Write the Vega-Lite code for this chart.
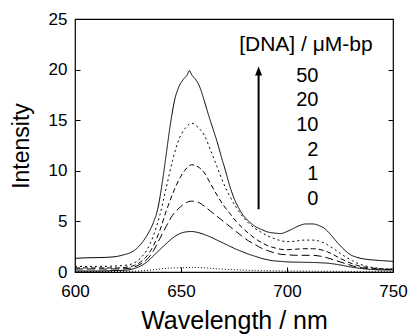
{
  "$schema": "https://vega.github.io/schema/vega-lite/v6.json",
  "width": 318,
  "height": 253,
  "autosize": {"type": "none"},
  "padding": {"left": 75, "top": 19, "right": 15, "bottom": 62},
  "background": "white",
  "config": {
    "view": {"stroke": "black", "strokeWidth": 1.2},
    "font": "Liberation Sans",
    "axis": {
      "labelFont": "Liberation Sans",
      "titleFont": "Liberation Sans",
      "labelColor": "black",
      "titleColor": "black",
      "titleFontWeight": "normal",
      "tickColor": "black",
      "grid": false,
      "domain": false
    }
  },
  "datasets": {
    "spectra": [
      {"wl":600,"I":1.35,"c":"50"},{"wl":605,"I":1.4,"c":"50"},{"wl":610,"I":1.42,"c":"50"},{"wl":615,"I":1.45,"c":"50"},{"wl":620,"I":1.55,"c":"50"},{"wl":623,"I":1.7,"c":"50"},{"wl":626,"I":1.9,"c":"50"},{"wl":629,"I":2.3,"c":"50"},{"wl":632,"I":3.0,"c":"50"},{"wl":635,"I":4.0,"c":"50"},{"wl":637,"I":4.9,"c":"50"},{"wl":639,"I":6.2,"c":"50"},{"wl":641,"I":8.6,"c":"50"},{"wl":643,"I":11.6,"c":"50"},{"wl":645,"I":14.6,"c":"50"},{"wl":647,"I":17.0,"c":"50"},{"wl":649,"I":18.3,"c":"50"},{"wl":651,"I":19.0,"c":"50"},{"wl":653,"I":19.5,"c":"50"},{"wl":654,"I":19.9,"c":"50"},{"wl":655,"I":19.5,"c":"50"},{"wl":657,"I":19.0,"c":"50"},{"wl":659,"I":18.2,"c":"50"},{"wl":661,"I":16.9,"c":"50"},{"wl":663,"I":15.5,"c":"50"},{"wl":665,"I":14.2,"c":"50"},{"wl":667,"I":12.9,"c":"50"},{"wl":669,"I":11.4,"c":"50"},{"wl":671,"I":10.0,"c":"50"},{"wl":673,"I":8.5,"c":"50"},{"wl":675,"I":7.3,"c":"50"},{"wl":677,"I":6.4,"c":"50"},{"wl":679,"I":5.7,"c":"50"},{"wl":682,"I":5.0,"c":"50"},{"wl":685,"I":4.5,"c":"50"},{"wl":688,"I":4.2,"c":"50"},{"wl":691,"I":3.95,"c":"50"},{"wl":694,"I":3.85,"c":"50"},{"wl":697,"I":3.8,"c":"50"},{"wl":700,"I":4.0,"c":"50"},{"wl":703,"I":4.3,"c":"50"},{"wl":706,"I":4.6,"c":"50"},{"wl":709,"I":4.75,"c":"50"},{"wl":712,"I":4.75,"c":"50"},{"wl":715,"I":4.6,"c":"50"},{"wl":718,"I":4.25,"c":"50"},{"wl":721,"I":3.6,"c":"50"},{"wl":724,"I":2.85,"c":"50"},{"wl":727,"I":2.2,"c":"50"},{"wl":730,"I":1.7,"c":"50"},{"wl":733,"I":1.45,"c":"50"},{"wl":736,"I":1.3,"c":"50"},{"wl":740,"I":1.2,"c":"50"},{"wl":745,"I":1.12,"c":"50"},{"wl":750,"I":1.05,"c":"50"},

      {"wl":600,"I":0.55,"c":"20"},{"wl":610,"I":0.55,"c":"20"},{"wl":620,"I":0.6,"c":"20"},{"wl":625,"I":0.7,"c":"20"},{"wl":628,"I":0.9,"c":"20"},{"wl":631,"I":1.4,"c":"20"},{"wl":634,"I":2.2,"c":"20"},{"wl":637,"I":3.6,"c":"20"},{"wl":640,"I":5.6,"c":"20"},{"wl":643,"I":8.3,"c":"20"},{"wl":646,"I":11.0,"c":"20"},{"wl":649,"I":13.1,"c":"20"},{"wl":652,"I":14.2,"c":"20"},{"wl":655,"I":14.7,"c":"20"},{"wl":658,"I":14.3,"c":"20"},{"wl":661,"I":13.5,"c":"20"},{"wl":664,"I":12.0,"c":"20"},{"wl":667,"I":10.4,"c":"20"},{"wl":670,"I":8.8,"c":"20"},{"wl":673,"I":7.5,"c":"20"},{"wl":676,"I":6.4,"c":"20"},{"wl":679,"I":5.5,"c":"20"},{"wl":682,"I":4.8,"c":"20"},{"wl":685,"I":4.3,"c":"20"},{"wl":688,"I":3.9,"c":"20"},{"wl":691,"I":3.55,"c":"20"},{"wl":694,"I":3.3,"c":"20"},{"wl":697,"I":3.1,"c":"20"},{"wl":700,"I":3.0,"c":"20"},{"wl":704,"I":3.05,"c":"20"},{"wl":708,"I":3.15,"c":"20"},{"wl":712,"I":3.15,"c":"20"},{"wl":716,"I":3.0,"c":"20"},{"wl":719,"I":2.7,"c":"20"},{"wl":722,"I":2.3,"c":"20"},{"wl":725,"I":1.85,"c":"20"},{"wl":728,"I":1.45,"c":"20"},{"wl":731,"I":1.1,"c":"20"},{"wl":734,"I":0.8,"c":"20"},{"wl":738,"I":0.55,"c":"20"},{"wl":742,"I":0.4,"c":"20"},{"wl":746,"I":0.3,"c":"20"},{"wl":750,"I":0.3,"c":"20"},

      {"wl":600,"I":0.4,"c":"10"},{"wl":610,"I":0.4,"c":"10"},{"wl":620,"I":0.4,"c":"10"},{"wl":625,"I":0.5,"c":"10"},{"wl":628,"I":0.65,"c":"10"},{"wl":631,"I":1.0,"c":"10"},{"wl":634,"I":1.6,"c":"10"},{"wl":637,"I":2.6,"c":"10"},{"wl":640,"I":4.1,"c":"10"},{"wl":643,"I":6.0,"c":"10"},{"wl":646,"I":7.7,"c":"10"},{"wl":649,"I":9.1,"c":"10"},{"wl":652,"I":10.1,"c":"10"},{"wl":655,"I":10.6,"c":"10"},{"wl":658,"I":10.4,"c":"10"},{"wl":661,"I":9.8,"c":"10"},{"wl":664,"I":8.7,"c":"10"},{"wl":667,"I":7.6,"c":"10"},{"wl":670,"I":6.6,"c":"10"},{"wl":673,"I":5.8,"c":"10"},{"wl":676,"I":5.0,"c":"10"},{"wl":679,"I":4.35,"c":"10"},{"wl":682,"I":3.8,"c":"10"},{"wl":685,"I":3.3,"c":"10"},{"wl":688,"I":2.9,"c":"10"},{"wl":691,"I":2.6,"c":"10"},{"wl":694,"I":2.4,"c":"10"},{"wl":697,"I":2.25,"c":"10"},{"wl":700,"I":2.2,"c":"10"},{"wl":704,"I":2.25,"c":"10"},{"wl":708,"I":2.3,"c":"10"},{"wl":712,"I":2.3,"c":"10"},{"wl":716,"I":2.2,"c":"10"},{"wl":719,"I":2.0,"c":"10"},{"wl":722,"I":1.7,"c":"10"},{"wl":725,"I":1.35,"c":"10"},{"wl":728,"I":1.05,"c":"10"},{"wl":731,"I":0.8,"c":"10"},{"wl":734,"I":0.6,"c":"10"},{"wl":738,"I":0.45,"c":"10"},{"wl":742,"I":0.35,"c":"10"},{"wl":746,"I":0.3,"c":"10"},{"wl":750,"I":0.25,"c":"10"},

      {"wl":600,"I":0.3,"c":"2"},{"wl":610,"I":0.3,"c":"2"},{"wl":620,"I":0.3,"c":"2"},{"wl":625,"I":0.35,"c":"2"},{"wl":628,"I":0.5,"c":"2"},{"wl":631,"I":0.8,"c":"2"},{"wl":634,"I":1.25,"c":"2"},{"wl":637,"I":2.1,"c":"2"},{"wl":640,"I":3.3,"c":"2"},{"wl":643,"I":4.5,"c":"2"},{"wl":646,"I":5.6,"c":"2"},{"wl":649,"I":6.3,"c":"2"},{"wl":652,"I":6.8,"c":"2"},{"wl":655,"I":7.0,"c":"2"},{"wl":658,"I":6.9,"c":"2"},{"wl":661,"I":6.5,"c":"2"},{"wl":664,"I":6.0,"c":"2"},{"wl":667,"I":5.5,"c":"2"},{"wl":670,"I":5.0,"c":"2"},{"wl":673,"I":4.5,"c":"2"},{"wl":676,"I":4.0,"c":"2"},{"wl":679,"I":3.5,"c":"2"},{"wl":682,"I":3.05,"c":"2"},{"wl":685,"I":2.7,"c":"2"},{"wl":688,"I":2.35,"c":"2"},{"wl":691,"I":2.1,"c":"2"},{"wl":694,"I":1.9,"c":"2"},{"wl":697,"I":1.75,"c":"2"},{"wl":700,"I":1.7,"c":"2"},{"wl":704,"I":1.65,"c":"2"},{"wl":708,"I":1.65,"c":"2"},{"wl":712,"I":1.65,"c":"2"},{"wl":716,"I":1.55,"c":"2"},{"wl":719,"I":1.4,"c":"2"},{"wl":722,"I":1.2,"c":"2"},{"wl":725,"I":1.0,"c":"2"},{"wl":728,"I":0.8,"c":"2"},{"wl":731,"I":0.6,"c":"2"},{"wl":734,"I":0.45,"c":"2"},{"wl":738,"I":0.35,"c":"2"},{"wl":742,"I":0.3,"c":"2"},{"wl":746,"I":0.25,"c":"2"},{"wl":750,"I":0.25,"c":"2"},

      {"wl":600,"I":0.1,"c":"1"},{"wl":610,"I":0.1,"c":"1"},{"wl":620,"I":0.15,"c":"1"},{"wl":625,"I":0.2,"c":"1"},{"wl":628,"I":0.35,"c":"1"},{"wl":631,"I":0.6,"c":"1"},{"wl":634,"I":1.0,"c":"1"},{"wl":637,"I":1.6,"c":"1"},{"wl":640,"I":2.2,"c":"1"},{"wl":643,"I":2.8,"c":"1"},{"wl":646,"I":3.35,"c":"1"},{"wl":649,"I":3.75,"c":"1"},{"wl":652,"I":3.95,"c":"1"},{"wl":655,"I":4.0,"c":"1"},{"wl":658,"I":3.9,"c":"1"},{"wl":661,"I":3.7,"c":"1"},{"wl":664,"I":3.45,"c":"1"},{"wl":667,"I":3.15,"c":"1"},{"wl":670,"I":2.85,"c":"1"},{"wl":673,"I":2.55,"c":"1"},{"wl":676,"I":2.25,"c":"1"},{"wl":679,"I":2.0,"c":"1"},{"wl":682,"I":1.75,"c":"1"},{"wl":685,"I":1.55,"c":"1"},{"wl":688,"I":1.35,"c":"1"},{"wl":691,"I":1.2,"c":"1"},{"wl":694,"I":1.1,"c":"1"},{"wl":697,"I":1.05,"c":"1"},{"wl":700,"I":1.0,"c":"1"},{"wl":705,"I":0.97,"c":"1"},{"wl":710,"I":0.95,"c":"1"},{"wl":715,"I":0.92,"c":"1"},{"wl":720,"I":0.85,"c":"1"},{"wl":725,"I":0.7,"c":"1"},{"wl":730,"I":0.5,"c":"1"},{"wl":735,"I":0.35,"c":"1"},{"wl":740,"I":0.25,"c":"1"},{"wl":745,"I":0.2,"c":"1"},{"wl":750,"I":0.2,"c":"1"},

      {"wl":600,"I":0.05,"c":"0"},{"wl":615,"I":0.05,"c":"0"},{"wl":625,"I":0.07,"c":"0"},{"wl":632,"I":0.12,"c":"0"},{"wl":638,"I":0.25,"c":"0"},{"wl":644,"I":0.38,"c":"0"},{"wl":650,"I":0.42,"c":"0"},{"wl":656,"I":0.45,"c":"0"},{"wl":662,"I":0.4,"c":"0"},{"wl":668,"I":0.3,"c":"0"},{"wl":676,"I":0.22,"c":"0"},{"wl":685,"I":0.15,"c":"0"},{"wl":700,"I":0.1,"c":"0"},{"wl":720,"I":0.07,"c":"0"},{"wl":750,"I":0.05,"c":"0"}
    ],
    "nums": [
      {"x":714.8,"y":19.37,"t":"50"},
      {"x":714.8,"y":17.0,"t":"20"},
      {"x":714.8,"y":14.5,"t":"10"},
      {"x":714.8,"y":12.06,"t":"2"},
      {"x":714.8,"y":9.68,"t":"1"},
      {"x":714.8,"y":7.21,"t":"0"}
    ],
    "header": [{"x":708.9,"y":22.4,"t":"[DNA] / μM-bp"}],
    "arrow": [{"x":686.6,"y1":6.2,"y2":19.6,"yh":19.85}]
  },
  "resolve": {"axis": {"y": "independent"}},
  "layer": [
    {
      "data": {"name": "spectra"},
      "mark": {"type": "line", "color": "black", "strokeWidth": 1, "interpolate": "monotone"},
      "encoding": {
        "x": {"field": "wl", "type": "quantitative",
              "scale": {"domain": [600, 750], "nice": false, "zero": false},
              "axis": {"values": [600, 650, 700, 750], "tickSize": -5, "labelPadding": 16, "labelFontSize": 17,
                       "title": "Wavelength / nm", "titleFontSize": 25, "titlePadding": 9, "labelFlush": false}},
        "y": {"field": "I", "type": "quantitative",
              "scale": {"domain": [0, 25], "nice": false},
              "axis": {"values": [0, 5, 10, 15, 20, 25], "tickSize": -5, "labelPadding": 13, "labelFontSize": 17,
                       "title": "Intensity", "titleFontSize": 23, "titlePadding": 15}},
        "detail": {"field": "c", "type": "nominal"},
        "strokeDash": {"field": "c", "type": "nominal",
                       "scale": {"domain": ["50", "20", "10", "2", "1", "0"],
                                 "range": [[1, 0], [2, 3], [5, 3], [8, 4], [1, 0], [1, 2]]},
                       "legend": null}
      }
    },
    {
      "data": {"name": "arrow"},
      "mark": {"type": "rule", "color": "black", "strokeWidth": 2},
      "encoding": {
        "x": {"field": "x", "type": "quantitative"},
        "y": {"field": "y1", "type": "quantitative",
              "axis": {"orient": "right", "values": [5, 10, 15, 20], "tickSize": -5, "labels": false, "title": null}},
        "y2": {"field": "y2"}
      }
    },
    {
      "data": {"name": "arrow"},
      "mark": {"type": "point", "shape": "M-0.78,1L0,-1L0.78,1Z", "filled": true, "color": "black", "opacity": 1, "size": 81},
      "encoding": {
        "x": {"field": "x", "type": "quantitative"},
        "y": {"field": "yh", "type": "quantitative", "axis": null}
      }
    },
    {
      "data": {"name": "nums"},
      "mark": {"type": "text", "align": "right", "baseline": "middle", "fontSize": 20, "font": "Liberation Sans", "color": "black"},
      "encoding": {
        "x": {"field": "x", "type": "quantitative"},
        "y": {"field": "y", "type": "quantitative", "axis": null},
        "text": {"field": "t"}
      }
    },
    {
      "data": {"name": "header"},
      "mark": {"type": "text", "align": "center", "baseline": "middle", "fontSize": 21, "font": "Liberation Sans", "color": "black"},
      "encoding": {
        "x": {"field": "x", "type": "quantitative"},
        "y": {"field": "y", "type": "quantitative", "axis": null},
        "text": {"field": "t"}
      }
    }
  ]
}
